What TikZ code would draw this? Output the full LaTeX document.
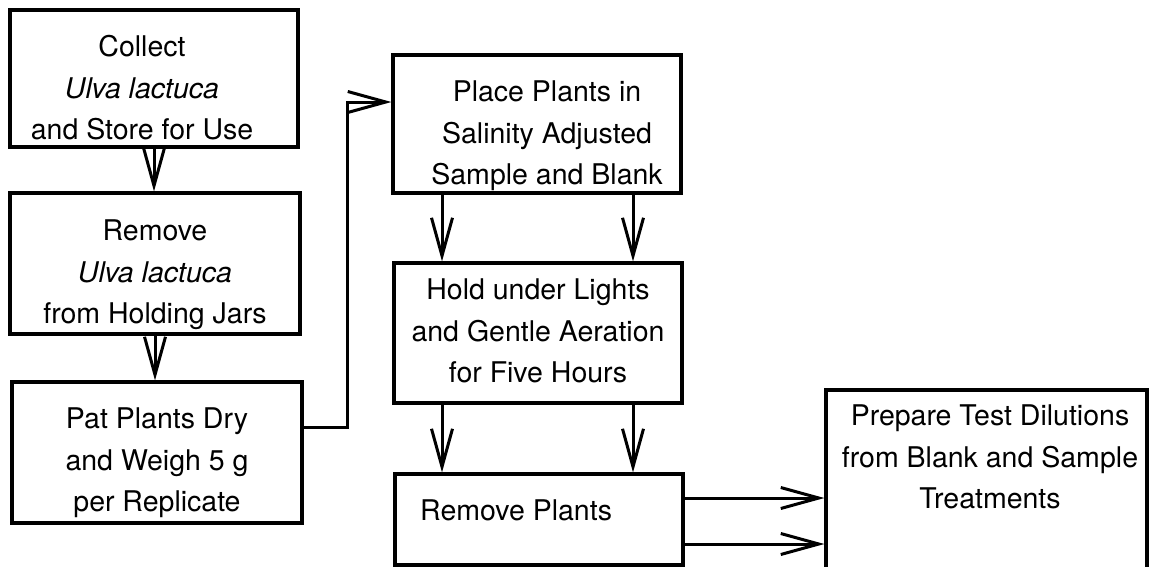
\documentclass[tikz,border=0pt]{standalone}
\usepackage{fontspec}
\setmainfont{TeX Gyre Heros}
\usetikzlibrary{arrows.meta}
\newcommand\Ls{\strut}
\begin{document}
\begin{tikzpicture}[x=1pt,y=-1pt,
  box/.style={draw, line width=3.2pt, inner sep=0pt, rectangle},
  txt/.style={align=center, inner sep=0pt, font=\fontsize{28.5pt}{41.5pt}\selectfont},
  flow/.style={line width=3pt, line join=miter, -{Straight Barb[length=38pt,width=21pt,line width=3pt]}},
  plain/.style={line width=3pt}]
\useasboundingbox (0,0) rectangle (1150,566);
% boxes
\node[box, minimum width=288pt, minimum height=137pt] (b1) at (154,78.5) {};
\node[box, minimum width=290pt, minimum height=141pt] (b2) at (155,263.5) {};
\node[box, minimum width=290pt, minimum height=141pt] (b3) at (157,452.5) {};
\node[box, minimum width=288pt, minimum height=138pt] (b4) at (537,124) {};
\node[box, minimum width=288pt, minimum height=140pt] (b5) at (538,333) {};
\node[box, minimum width=288pt, minimum height=91pt] (b6) at (539,519.5) {};
\node[box, minimum width=321pt, minimum height=230pt] (b7) at (986.5,505) {};
% texts
\node[txt] (t1) at (142,90) {\Ls Collect\\\Ls\textit{Ulva lactuca}\\\Ls and Store for Use};
\node[txt] (t2) at (155,274) {\Ls Remove\\\Ls\textit{Ulva lactuca}\\\Ls from Holding Jars};
\node[txt] (t3) at (157,462) {\Ls Pat Plants Dry\\\Ls and Weigh 5 g\\\Ls per Replicate};
\node[txt] (t4) at (547,135) {\Ls Place Plants in\\\Ls Salinity Adjusted\\\Ls Sample and Blank};
\node[txt] (t5) at (538,333) {\Ls Hold under Lights\\\Ls and Gentle Aeration\\\Ls for Five Hours};
\node[txt, anchor=base west] (t6) at (420,520) {Remove Plants};
\node[txt] (t7) at (990,459) {\Ls Prepare Test Dilutions\\\Ls from Blank and Sample\\\Ls Treatments};
% helper coordinates
\coordinate (c1) at (347,427);
\coordinate (c2) at (347,102);
\coordinate (xl) at (442,0);
\coordinate (xr) at (633,0);
\coordinate (yu) at (0,498);
\coordinate (yd) at (0,544);
% connectors
\draw[flow] (b1.south) -- (b1.south |- b2.north);
\draw[flow] (b2.south) -- (b2.south |- b3.north);
\draw[flow] (b3.east |- c1) -- (c1) -- (c2) -- (c2 -| b4.west);
\draw[flow] (b4.south -| xl) -- (b5.north -| xl);
\draw[flow] (b4.south -| xr) -- (b5.north -| xr);
\draw[flow] (b5.south -| xl) -- (b6.north -| xl);
\draw[flow] (b5.south -| xr) -- (b6.north -| xr);
\draw[flow] (b6.east |- yu) -- (b7.west |- yu);
\draw[flow] (b6.east |- yd) -- (b7.west |- yd);
\end{tikzpicture}
\end{document}
